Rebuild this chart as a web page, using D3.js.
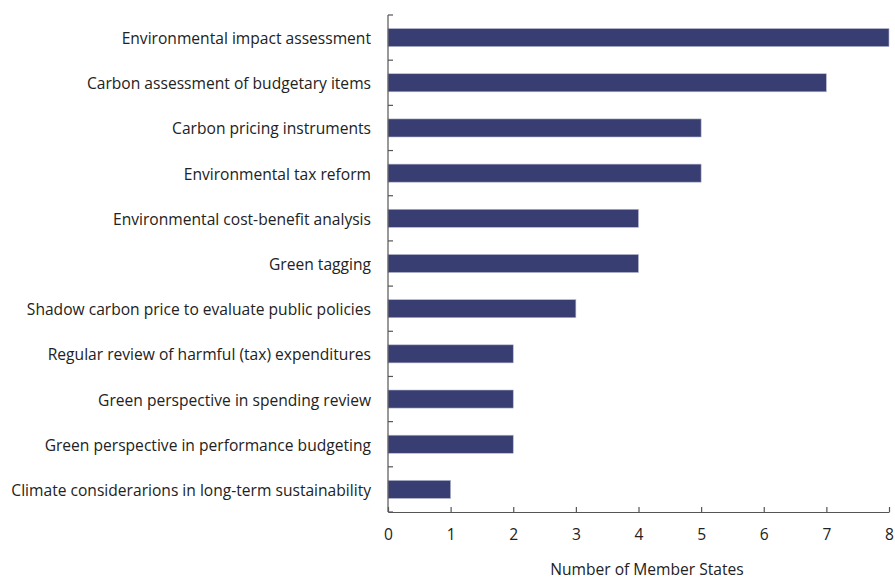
<!DOCTYPE html>
<html lang="en">
  <head>
    <meta charset="UTF-8" />
    <title>Member States</title>
    <script src="https://cdn.jsdelivr.net/npm/d3@7"></script>
    <style>
      html,
      body {
        margin: 0;
        padding: 0;
        background: #fff;
      }
      svg text {
        font-family: 'Open Sans', sans-serif;
        fill: #222;
      }
    </style>
  </head>
  <body>
    <svg width="895" height="581"></svg>
    <script>
      const categories = [
        'Environmental impact assessment',
        'Carbon assessment of budgetary items',
        'Carbon pricing instruments',
        'Environmental tax reform',
        'Environmental cost-benefit analysis',
        'Green tagging',
        'Shadow carbon price to evaluate public policies',
        'Regular review of harmful (tax) expenditures',
        'Green perspective in spending review',
        'Green perspective in performance budgeting',
        'Climate considerarions in long-term sustainability',
      ];
      const values = [8, 7, 5, 5, 4, 4, 3, 2, 2, 2, 1];
      const xTicks = [0, 1, 2, 3, 4, 5, 6, 7, 8];

      const svg = d3.select('svg');
      const plotLeft = 388,
        plotRight = 889,
        plotTop = 15,
        plotBottom = 512;

      const x = d3.scaleLinear().domain([0, 8]).range([plotLeft, plotRight]);
      const y = d3
        .scaleBand()
        .domain(categories)
        .range([plotTop, plotBottom])
        .paddingInner(0.6)
        .paddingOuter(0.3);

      // bars
      svg
        .append('g')
        .selectAll('rect')
        .data(values)
        .enter()
        .append('rect')
        .attr('x', x(0))
        .attr('y', (d, i) => y(categories[i]))
        .attr('width', d => x(d) - x(0))
        .attr('height', y.bandwidth())
        .attr('fill', '#383e72')
        .attr('stroke', '#b8bbd0')
        .attr('stroke-width', 0.6);

      // y axis: band boundaries as ticks
      const step = (plotBottom - plotTop) / categories.length;
      const yG = svg.append('g');
      yG.append('line')
        .attr('x1', plotLeft)
        .attr('x2', plotLeft)
        .attr('y1', plotTop)
        .attr('y2', plotBottom)
        .attr('stroke', '#555')
        .attr('stroke-width', 1.2);
      yG.selectAll('line.tick')
        .data(d3.range(categories.length + 1))
        .enter()
        .append('line')
        .attr('class', 'tick')
        .attr('x1', plotLeft)
        .attr('x2', plotLeft + 5)
        .attr('y1', d => plotTop + d * step)
        .attr('y2', d => plotTop + d * step)
        .attr('stroke', '#555')
        .attr('stroke-width', 1.2);
      yG.selectAll('text')
        .data(categories)
        .enter()
        .append('text')
        .attr('x', plotLeft - 17)
        .attr('y', d => y(d) + y.bandwidth() / 2 + 1)
        .attr('dy', '0.35em')
        .attr('text-anchor', 'end')
        .style('font-size', '15.6px')
        .text(d => d);

      // x axis
      const xAxis = d3
        .axisBottom(x)
        .tickValues(xTicks)
        .tickSize(-5)
        .tickPadding(17)
        .tickSizeOuter(0);
      const xG = svg
        .append('g')
        .attr('transform', `translate(0,${plotBottom})`)
        .call(xAxis);
      xG.selectAll('path.domain').attr('stroke', '#555').attr('stroke-width', 1.2);
      xG.selectAll('line').attr('stroke', '#555').attr('stroke-width', 1.2);
      xG.selectAll('text')
        .style('font-size', '15.6px')
        .style('font-family', "'Open Sans', sans-serif")
        .attr('fill', '#222');

      svg
        .append('text')
        .attr('x', 647)
        .attr('y', 575)
        .attr('text-anchor', 'middle')
        .style('font-size', '15.6px')
        .text('Number of Member States');
    </script>
  </body>
</html>
